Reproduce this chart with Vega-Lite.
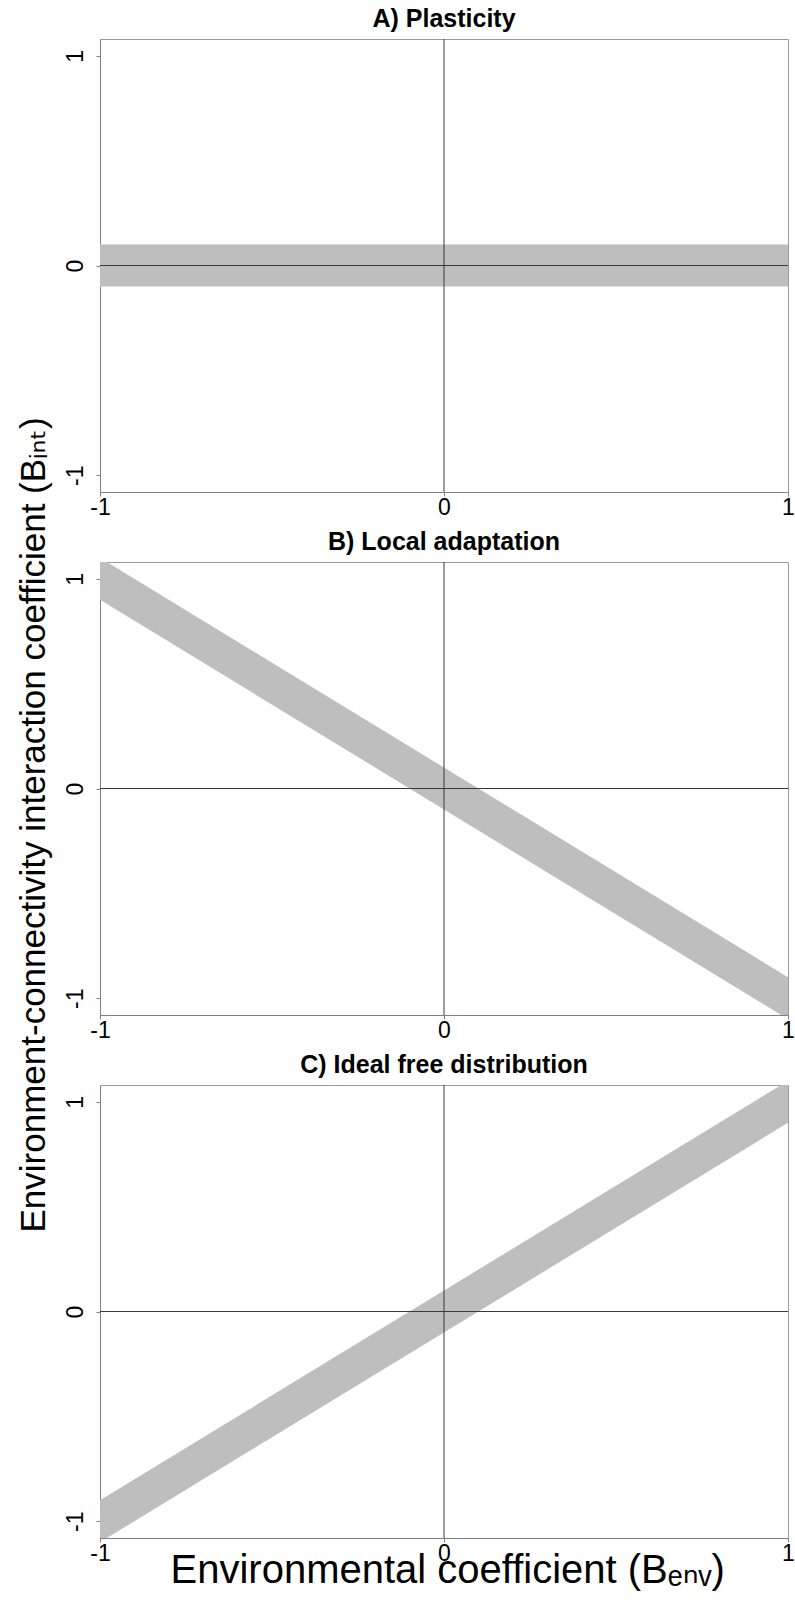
{
  "$schema": "https://vega.github.io/schema/vega-lite/v6.json",
  "padding": {"left": 15, "top": 6, "right": 0, "bottom": 3},
  "background": "white",
  "bounds": "flush",
  "spacing": 70,
  "config": {
    "font": "Liberation Sans",
    "view": {"stroke": "#9a9a9a", "strokeWidth": 1},
    "axis": {
      "grid": false,
      "domainColor": "#808080",
      "tickColor": "#808080",
      "labelFont": "Liberation Sans",
      "labelFontSize": 23,
      "labelColor": "#000000",
      "labelFlush": false,
      "labelOverlap": false,
      "tickSize": 4,
      "titleFont": "Liberation Sans, DejaVu Sans",
      "titleFontWeight": "normal",
      "titleColor": "#000000"
    },
    "title": {"font": "Liberation Sans", "fontSize": 25, "fontWeight": "bold", "anchor": "middle", "baseline": "alphabetic", "offset": 7, "color": "#000000"}
  },
  "datasets": {
    "bands": [
      {"panel": "A", "x": -1, "lo": -0.1, "hi": 0.1},
      {"panel": "A", "x": 1, "lo": -0.1, "hi": 0.1},
      {"panel": "B", "x": -1, "lo": 0.9, "hi": 1.1},
      {"panel": "B", "x": 1, "lo": -1.1, "hi": -0.9},
      {"panel": "C", "x": -1, "lo": -1.1, "hi": -0.9},
      {"panel": "C", "x": 1, "lo": 0.9, "hi": 1.1}
    ],
    "zero": [{"v": 0}]
  },
  "vconcat": [
    {
      "title": "A) Plasticity",
      "width": 688,
      "height": 453,
      "layer": [
        {
          "data": {"name": "bands"},
          "transform": [{"filter": "datum.panel == 'A'"}],
          "mark": {"type": "area", "color": "#bebebe", "opacity": 1, "clip": true},
          "encoding": {
            "x": {"field": "x", "type": "quantitative", "scale": {"domain": [-1, 1], "nice": false},
                  "axis": {"values": [-1, 0, 1], "labelExpr": "datum.value + ''", "title": null, "labelPadding": 0}},
            "y": {"field": "lo", "type": "quantitative", "scale": {"domain": [-1.08, 1.08], "nice": false},
                  "axis": {"values": [-1, 0, 1], "labelExpr": "datum.value + ''", "labelAngle": -90, "labelAlign": "center", "labelBaseline": "bottom", "labelPadding": 9,
                           "title": "Environment-connectivity interaction coefficient (Bᵢₙₜ)", "titleFontSize": 35, "titleAngle": -90, "titleAlign": "left", "titleBaseline": "alphabetic", "titleX": -56, "titleY": 1193}},
            "y2": {"field": "hi"}
          }
        },
        {
          "data": {"name": "zero"},
          "mark": {"type": "rule", "color": "#3a3a3a", "strokeWidth": 1},
          "encoding": {"x": {"field": "v", "type": "quantitative"}}
        },
        {
          "data": {"name": "zero"},
          "mark": {"type": "rule", "color": "#3a3a3a", "strokeWidth": 1},
          "encoding": {"y": {"field": "v", "type": "quantitative"}}
        }
      ]
    },
    {
      "title": "B) Local adaptation",
      "width": 688,
      "height": 453,
      "layer": [
        {
          "data": {"name": "bands"},
          "transform": [{"filter": "datum.panel == 'B'"}],
          "mark": {"type": "area", "color": "#bebebe", "opacity": 1, "clip": true},
          "encoding": {
            "x": {"field": "x", "type": "quantitative", "scale": {"domain": [-1, 1], "nice": false},
                  "axis": {"values": [-1, 0, 1], "labelExpr": "datum.value + ''", "title": null, "labelPadding": 0}},
            "y": {"field": "lo", "type": "quantitative", "scale": {"domain": [-1.08, 1.08], "nice": false},
                  "axis": {"values": [-1, 0, 1], "labelExpr": "datum.value + ''", "labelAngle": -90, "labelAlign": "center", "labelBaseline": "bottom", "labelPadding": 9, "title": null}},
            "y2": {"field": "hi"}
          }
        },
        {
          "data": {"name": "zero"},
          "mark": {"type": "rule", "color": "#3a3a3a", "strokeWidth": 1},
          "encoding": {"x": {"field": "v", "type": "quantitative"}}
        },
        {
          "data": {"name": "zero"},
          "mark": {"type": "rule", "color": "#3a3a3a", "strokeWidth": 1},
          "encoding": {"y": {"field": "v", "type": "quantitative"}}
        }
      ]
    },
    {
      "title": "C) Ideal free distribution",
      "width": 688,
      "height": 453,
      "layer": [
        {
          "data": {"name": "bands"},
          "transform": [{"filter": "datum.panel == 'C'"}],
          "mark": {"type": "area", "color": "#bebebe", "opacity": 1, "clip": true},
          "encoding": {
            "x": {"field": "x", "type": "quantitative", "scale": {"domain": [-1, 1], "nice": false},
                  "axis": {"values": [-1, 0, 1], "labelExpr": "datum.value + ''", "labelPadding": 0,
                           "title": "Environmental coefficient (Bₑₙᵥ)", "titleFontSize": 40, "titleAlign": "left", "titleBaseline": "alphabetic", "titleX": 70, "titleY": 44}},
            "y": {"field": "lo", "type": "quantitative", "scale": {"domain": [-1.08, 1.08], "nice": false},
                  "axis": {"values": [-1, 0, 1], "labelExpr": "datum.value + ''", "labelAngle": -90, "labelAlign": "center", "labelBaseline": "bottom", "labelPadding": 9, "title": null}},
            "y2": {"field": "hi"}
          }
        },
        {
          "data": {"name": "zero"},
          "mark": {"type": "rule", "color": "#3a3a3a", "strokeWidth": 1},
          "encoding": {"x": {"field": "v", "type": "quantitative"}}
        },
        {
          "data": {"name": "zero"},
          "mark": {"type": "rule", "color": "#3a3a3a", "strokeWidth": 1},
          "encoding": {"y": {"field": "v", "type": "quantitative"}}
        }
      ]
    }
  ]
}
